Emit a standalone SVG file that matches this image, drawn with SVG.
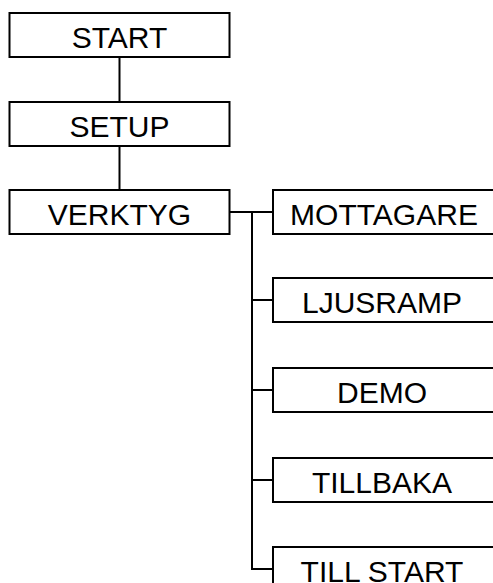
<svg xmlns="http://www.w3.org/2000/svg" width="493" height="583" viewBox="0 0 493 583">
<style>
.box{fill:#fff;stroke:#000;stroke-width:2}
.lbl{font-family:"Liberation Sans",Arial,sans-serif;font-size:30px;fill:#000;text-anchor:middle}
.con{stroke:#000;stroke-width:2;fill:none}
</style>
<rect width="493" height="583" fill="#fff"/>
<g id="connectors">
<line class="con" x1="119.5" y1="57" x2="119.5" y2="102"/>
<line class="con" x1="119.5" y1="146" x2="119.5" y2="190"/>
<line class="con" x1="230" y1="212" x2="273" y2="212"/>
<line class="con" x1="252" y1="211" x2="252" y2="570"/>
<line class="con" x1="251" y1="300" x2="273" y2="300"/>
<line class="con" x1="251" y1="390" x2="273" y2="390"/>
<line class="con" x1="251" y1="480" x2="273" y2="480"/>
<line class="con" x1="251" y1="569" x2="273" y2="569"/>
</g>
<g id="start"><rect class="box" x="9.5" y="13" width="220" height="44"/><text class="lbl" x="119.5" y="48">START</text></g>
<g id="setup"><rect class="box" x="9.5" y="102" width="220" height="44"/><text class="lbl" x="119.5" y="137">SETUP</text></g>
<g id="verktyg"><rect class="box" x="9.5" y="190" width="220" height="44"/><text class="lbl" x="119.5" y="224.5">VERKTYG</text></g>
<g id="mottagare"><rect class="box" x="273" y="190" width="221" height="44"/><text class="lbl" x="384" y="224.5">MOTTAGARE</text></g>
<g id="ljusramp"><rect class="box" x="273" y="278" width="221" height="44"/><text class="lbl" x="382" y="313">LJUSRAMP</text></g>
<g id="demo"><rect class="box" x="273" y="368" width="221" height="44"/><text class="lbl" x="382" y="403">DEMO</text></g>
<g id="tillbaka"><rect class="box" x="273" y="458" width="221" height="44"/><text class="lbl" x="382" y="493">TILLBAKA</text></g>
<g id="tillstart"><rect class="box" x="273" y="547" width="221" height="44"/><text class="lbl" x="382" y="581.5">TILL START</text></g>
</svg>
